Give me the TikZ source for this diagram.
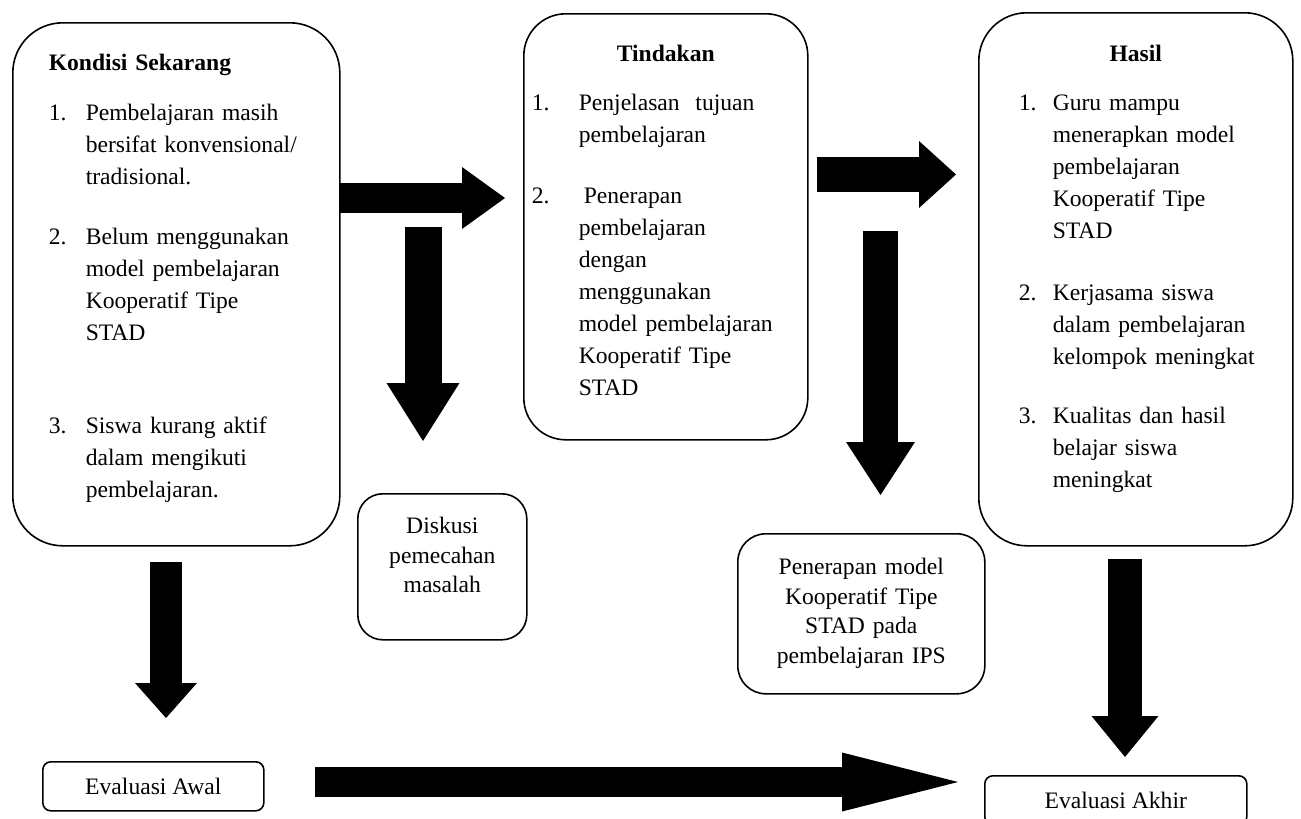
\documentclass[tikz,border=0pt]{standalone}
\usepackage{fontspec}
\setmainfont{Liberation Serif}
\usetikzlibrary{arrows.meta}

\newcommand{\butir}[3]{\par\hangindent=#1\hangafter=1\noindent\makebox[#1][l]{#2}#3\par}

\begin{document}
\begin{tikzpicture}[x=0.5pt,y=-0.5pt,
  every node/.style={font=\fontsize{11.8}{16}\selectfont},
  kotak/.style={draw,line width=0.8pt,rounded corners=#1,anchor=north west,
    align=left,text height=0pt},
  kecil/.style={kotak=#1,align=center,inner xsep=0pt,
    font=\fontsize{11.8}{14.75}\selectfont},
  evaluasi/.style={draw,line width=0.8pt,rounded corners=4pt,anchor=north west,
    minimum height=24.5pt},
  panah/.style n args={3}{line width=#1,
    -{Triangle[width=#2 0 0,length=#3 0 0,line width=0pt 0 0]}}]

    \useasboundingbox (0,0) rectangle (1301,819);

    % kotak utama
    \node[kotak=25pt,inner xsep=18pt,inner ysep=24pt,text width=127.5pt,
      text depth=213.5pt] (kondisi) at (12,22) {%
      \textbf{Kondisi Sekarang}\par\vspace{9pt}
      \butir{18.5pt}{1.}{Pembelajaran masih\newline bersifat konvensional/\newline tradisional.}
      \vspace{14pt}
      \butir{18.5pt}{2.}{Belum menggunakan\newline model pembelajaran\newline Kooperatif Tipe\newline STAD}
      \vspace{30.5pt}
      \butir{18.5pt}{3.}{Siswa kurang aktif\newline dalam mengikuti\newline pembelajaran.}};

    \node[kotak=21pt,inner xsep=4pt,inner ysep=24pt,text width=134pt,
      text depth=165pt] (tindakan) at (523,13) {%
      {\centering\textbf{Tindakan}\par}\vspace{8.5pt}
      \butir{23.5pt}{1.}{Penjelasan\ \ tujuan\newline pembelajaran}
      \vspace{14.5pt}
      \butir{23.5pt}{2.}{\hspace{2.5pt}Penerapan\newline pembelajaran\newline dengan\newline menggunakan\newline model pembelajaran\newline Kooperatif Tipe\newline STAD}};

    \node[kotak=24pt,inner xsep=20pt,inner ysep=24.5pt,text width=117pt,
      text depth=217.5pt] (hasil) at (978,12) {%
      {\centering\textbf{Hasil}\par}\vspace{8.5pt}
      \butir{17pt}{1.}{Guru mampu\newline menerapkan model\newline pembelajaran\newline Kooperatif Tipe\newline STAD}
      \vspace{15pt}
      \butir{17pt}{2.}{Kerjasama siswa\newline dalam pembelajaran\newline \mbox{kelompok meningkat}}
      \vspace{13.5pt}
      \butir{17pt}{3.}{Kualitas dan hasil\newline belajar siswa\newline meningkat}};

    % kotak kecil
    \node[kecil=12.5pt,inner ysep=20pt,text width=84.5pt,text depth=33pt]
      (diskusi) at (357,493) {Diskusi\\pemecahan\\masalah};
    \node[kecil=14pt,inner ysep=20.5pt,text width=123.5pt,text depth=39pt]
      (penerapan) at (737,533) {Penerapan model\\Kooperatif Tipe\\STAD pada\\pembelajaran IPS};
    \node[evaluasi,minimum width=110.5pt] (evalawal) at (42,761) {Evaluasi Awal};
    \node[evaluasi,minimum width=131pt] (evalakhir) at (984,775) {Evaluasi Akhir};

    % ujung panah
    \coordinate (p1a) at (339,198);    \coordinate (p1b) at (505,198);
    \coordinate (p2a) at (423,227);    \coordinate (p2b) at (423,441);
    \coordinate (p3a) at (817,174.5);  \coordinate (p3b) at (956,174.5);
    \coordinate (p4a) at (880.5,231);  \coordinate (p4b) at (880.5,495);
    \coordinate (p5a) at (166,562);    \coordinate (p5b) at (166,718);
    \coordinate (p6a) at (1125,559);   \coordinate (p6b) at (1125,757);
    \coordinate (p7a) at (315,782);    \coordinate (p7b) at (958,782);

    \draw[panah={15pt}{31pt}{21.5pt}] (p1a) -- (p1b);
    \draw[panah={18.5pt}{36.5pt}{29pt}] (p2a) -- (p2b);
    \draw[panah={17.5pt}{33.5pt}{18.5pt}] (p3a) -- (p3b);
    \draw[panah={17.5pt}{34.5pt}{26.5pt}] (p4a) -- (p4b);
    \draw[panah={16pt}{31pt}{17.5pt}] (p5a) -- (p5b);
    \draw[panah={17pt}{33.5pt}{20.5pt}] (p6a) -- (p6b);
    \draw[panah={15pt}{29.5pt}{58pt}] (p7a) -- (p7b);
\end{tikzpicture}
\end{document}
